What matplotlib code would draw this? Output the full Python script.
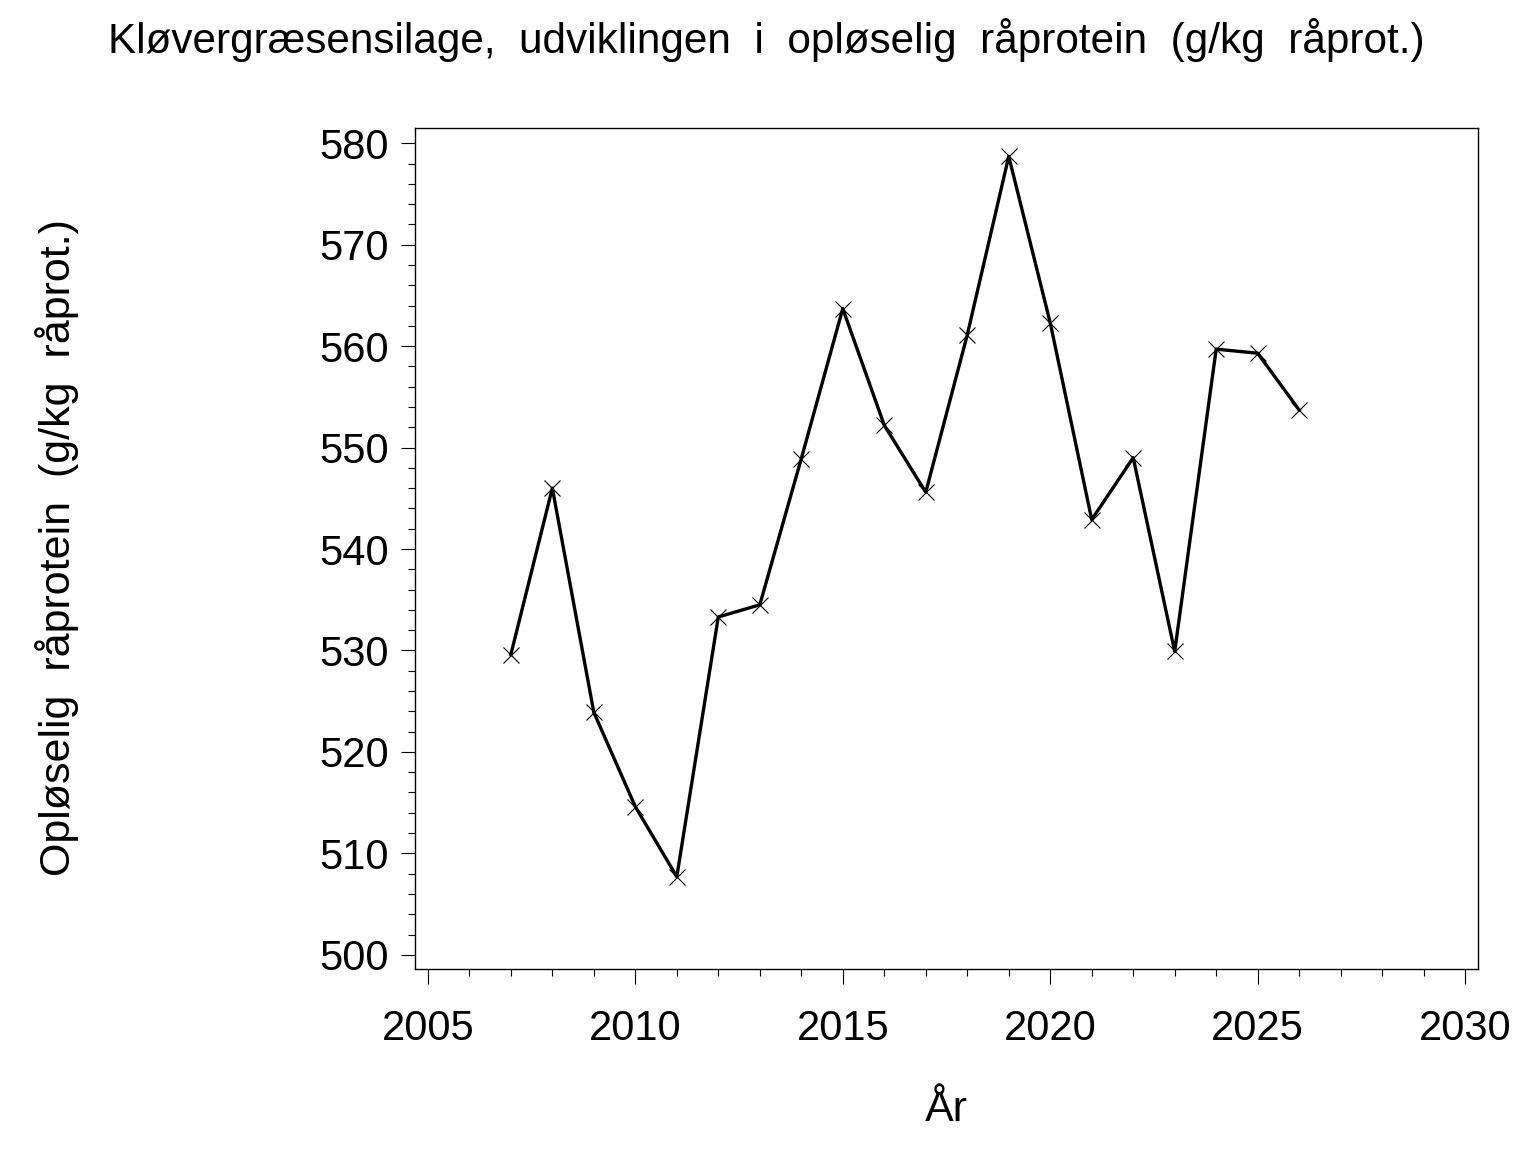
import matplotlib
matplotlib.use("Agg")
import matplotlib.pyplot as plt
from matplotlib.ticker import MultipleLocator

plt.rcParams['font.family'] = ['Liberation Sans', 'DejaVu Sans']

# data
years = [2007, 2008, 2009, 2010, 2011, 2012, 2013, 2014, 2015, 2016,
         2017, 2018, 2019, 2020, 2021, 2022, 2023, 2024, 2025, 2026]
sol_protein = [529.6, 546.0, 523.9, 514.6, 507.7, 533.3, 534.5, 548.9, 563.7, 552.2,
               545.6, 561.1, 578.7, 562.3, 542.9, 549.0, 529.9, 559.7, 559.3, 553.7]

title = "Kløvergræsensilage,  udviklingen  i  opløselig  råprotein  (g/kg  råprot.)"
ylabel = "Opløselig  råprotein  (g/kg  råprot.)"
xlabel = "År"

W, H = 1536, 1152
fig = plt.figure(figsize=(W / 100, H / 100), dpi=100)
ax = fig.add_axes([415 / W, 1 - 969 / H, (1478 - 415) / W, (969 - 128) / H])

ax.plot(years, sol_protein, color="black", lw=2.4, marker="x",
        markersize=12, markeredgewidth=0.8, markeredgecolor="black")

ax.set_xlim(2004.69, 2030.31)
ax.set_ylim(498.6, 581.5)
ax.xaxis.set_major_locator(MultipleLocator(5))
ax.xaxis.set_minor_locator(MultipleLocator(1))
ax.yaxis.set_major_locator(MultipleLocator(10))
ax.yaxis.set_minor_locator(MultipleLocator(2))

for s in ax.spines.values():
    s.set_linewidth(1.0)

ax.tick_params(which="major", direction="out", length=10, width=0.8,
               labelsize=30, pad=9)
ax.tick_params(which="minor", direction="out", length=5, width=0.8)
ax.tick_params(axis="x", which="major", length=11, pad=18)

fig.text(766 / W, 1 - 40 / H, title, ha="center", va="center", fontsize=30.4)
fig.text(57 / W, 1 - 548 / H, ylabel, ha="center", va="center",
         rotation=90, fontsize=31)
fig.text(946 / W, 1 - 1110 / H, xlabel, ha="center", va="center", fontsize=31)

fig.savefig("out.png", dpi=100)
